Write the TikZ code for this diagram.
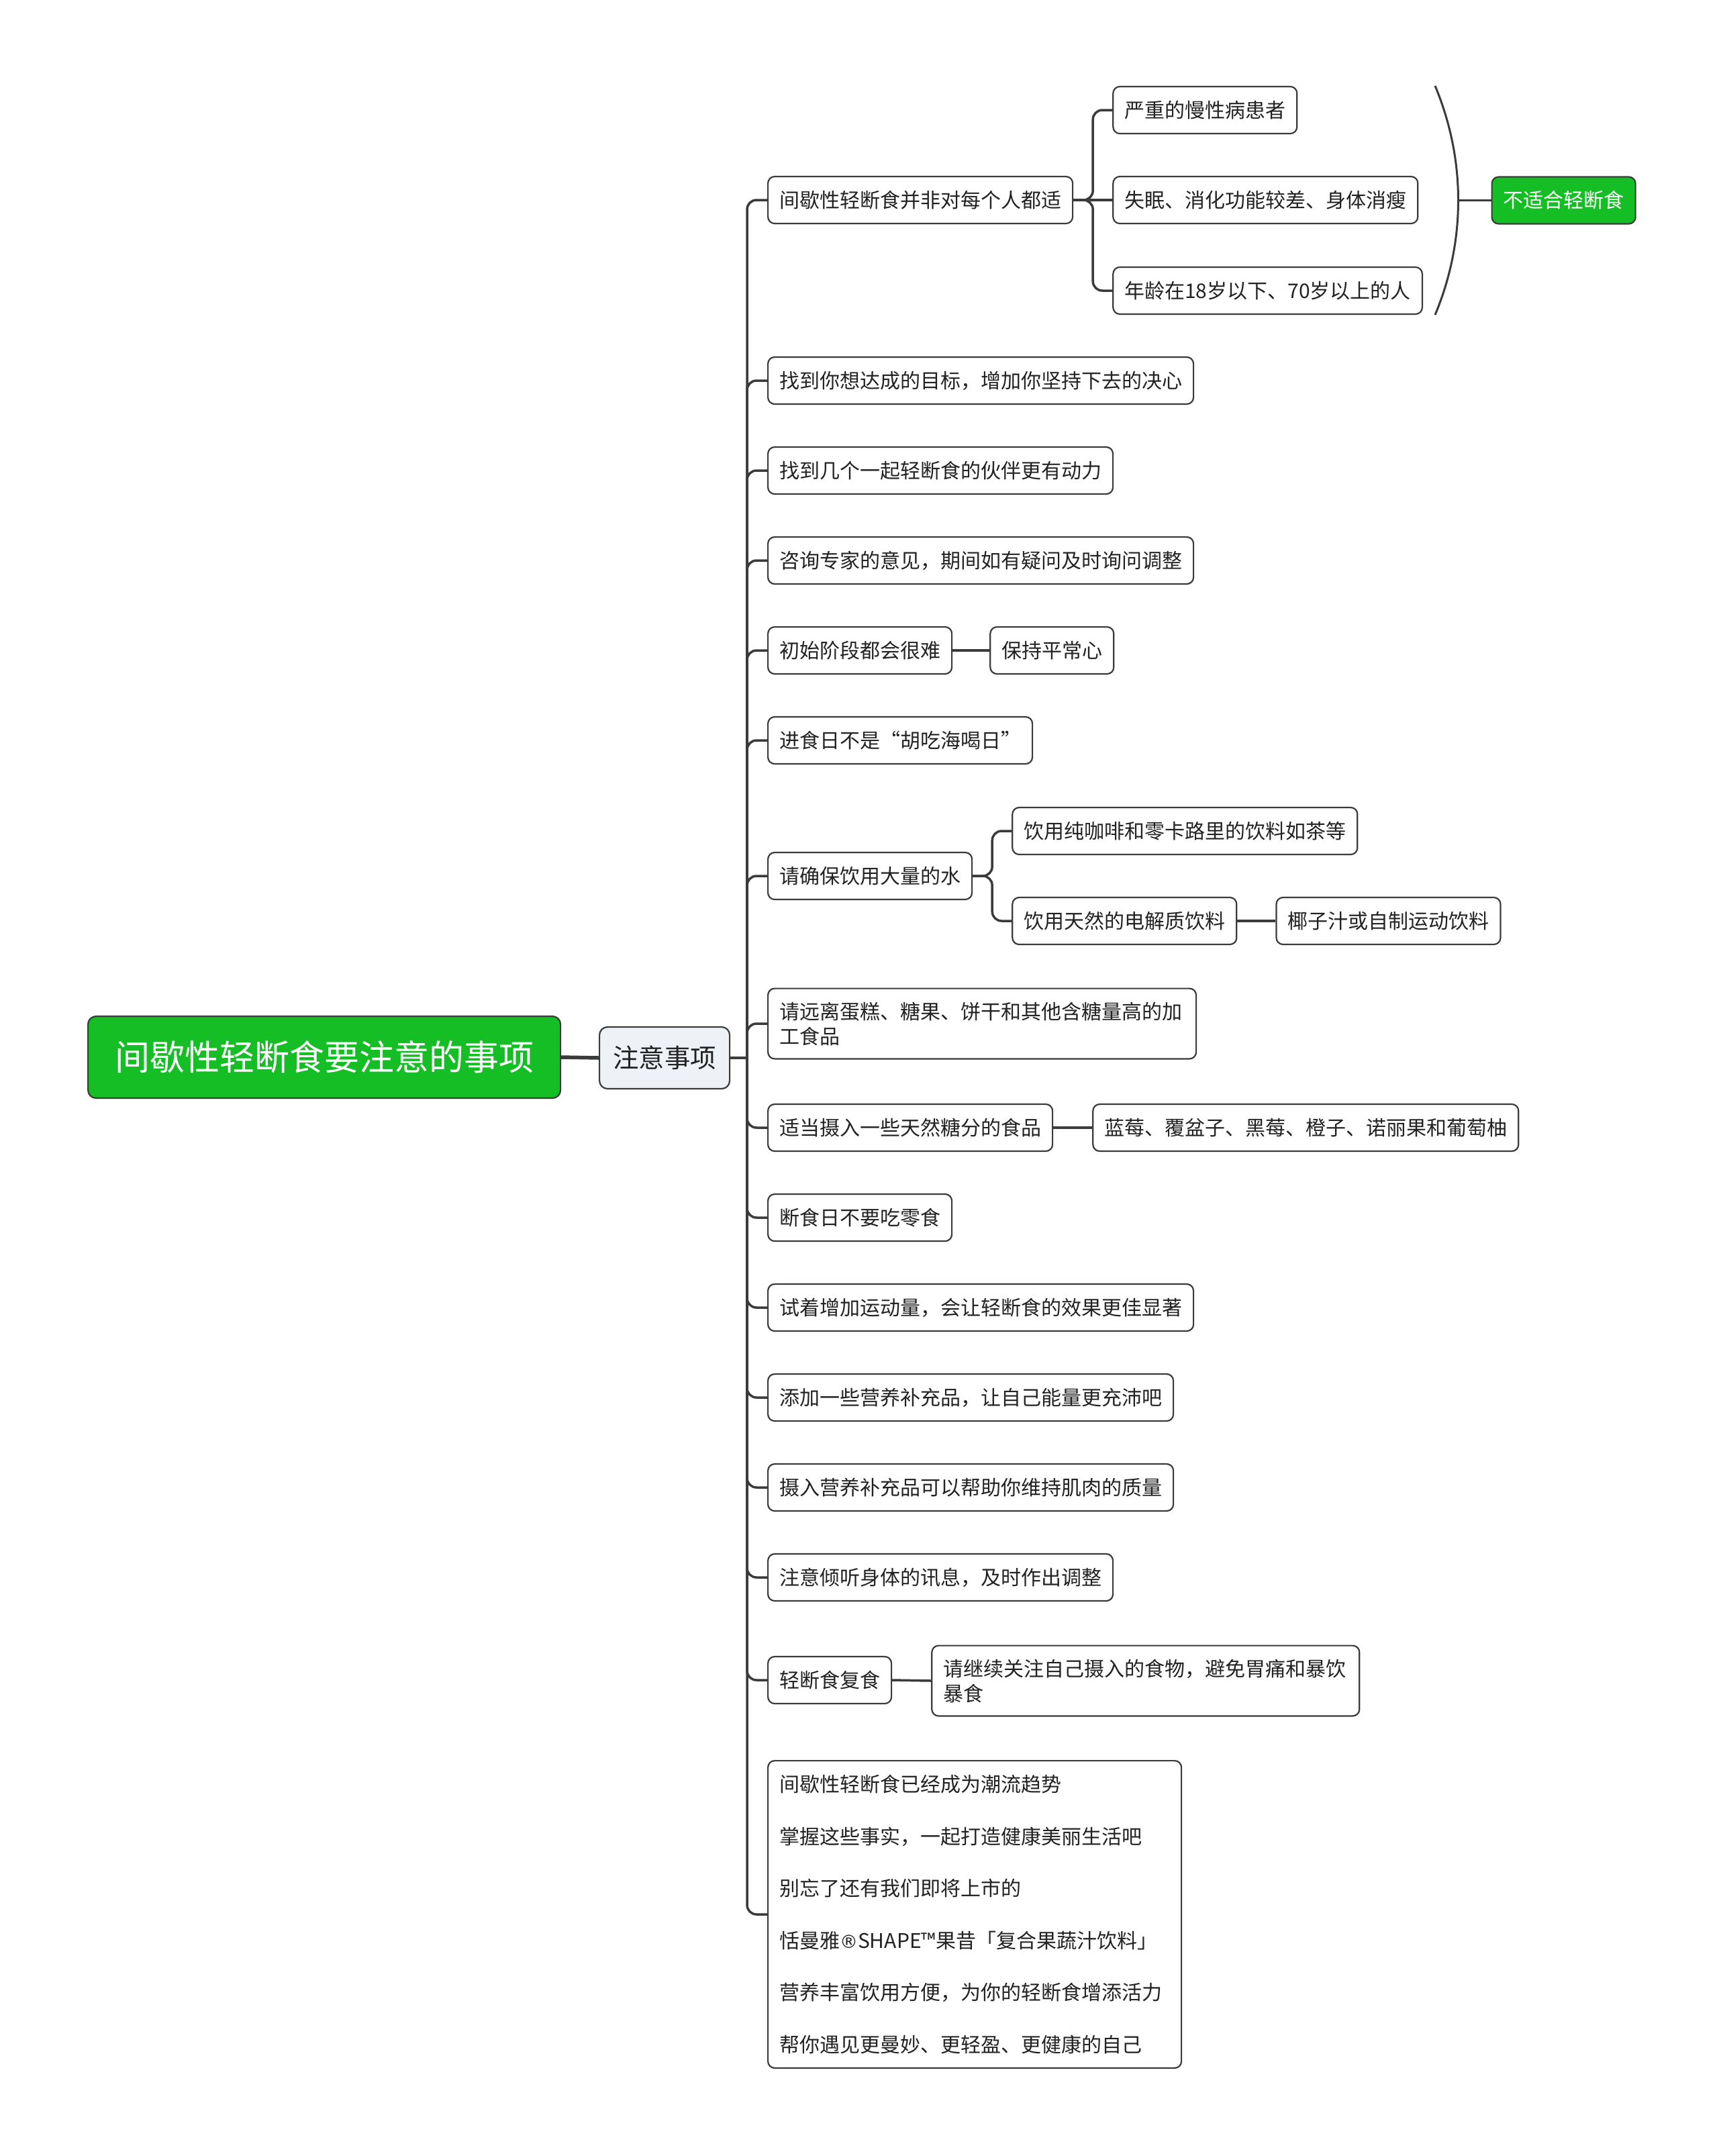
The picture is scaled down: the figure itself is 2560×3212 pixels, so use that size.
\documentclass[tikz,border=0pt]{standalone}
\usepackage{fontspec}
\setmainfont{Noto Sans CJK SC}
\newfontfamily\regfont{DejaVu Sans}
\usetikzlibrary{calc}
\definecolor{lineC}{HTML}{3A3C3A}
\definecolor{txtC}{HTML}{222222}
\definecolor{greenF}{HTML}{16BE26}
\definecolor{zsF}{HTML}{EEF1F5}
\begin{document}
\begin{tikzpicture}[x=1pt,y=-1pt,
  box/.style={draw=lineC, line width=2.2pt, rounded corners=10pt, fill=white,
    inner xsep=17pt, inner ysep=0pt, minimum height=70pt,
    font=\fontsize{30}{37}\selectfont, text=txtC, anchor=west},
  mbox/.style={box, inner ysep=20pt},
  greenbox/.style={box, fill=greenF, text=white},
  rootbox/.style={draw=lineC, line width=2.2pt, rounded corners=12pt, fill=greenF,
    text=white, inner xsep=40pt, inner ysep=0pt, minimum height=122pt,
    font=\fontsize{52}{60}\selectfont, anchor=west},
  zsbox/.style={draw=lineC, line width=2.2pt, rounded corners=12pt, fill=zsF,
    text=txtC, inner xsep=20pt, inner ysep=0pt, minimum height=92pt,
    font=\fontsize{38.5}{44}\selectfont, anchor=west},
  conn/.style={draw=lineC, line width=3.5pt, rounded corners=14pt},
  mainconn/.style={draw=lineC, line width=5.5pt},
  bracecurve/.style={draw=lineC, line width=3pt}
]
\useasboundingbox[fill=white] (0,0) rectangle (2560,3212);

% root and main topic
\node[rootbox] (root) at (130,1575) {间歇性轻断食要注意的事项};
\node[zsbox] (zs) at (892,1576) {注意事项};
\coordinate (sp) at (1113,1576);

% level-2 topics
\node[box] (a1) at (1143,298) {间歇性轻断食并非对每个人都适};
\node[box] (a2) at (1143,567) {找到你想达成的目标，增加你坚持下去的决心};
\node[box] (a3) at (1143,701) {找到几个一起轻断食的伙伴更有动力};
\node[box] (a4) at (1143,835) {咨询专家的意见，期间如有疑问及时询问调整};
\node[box] (a5) at (1143,969) {初始阶段都会很难};
\node[box] (a6) at (1143,1103) {进食日不是“胡吃海喝日”};
\node[box] (a7) at (1143,1305) {请确保饮用大量的水};
\node[mbox, text width=604pt, align=left] (a8) at (1143,1525) {请远离蛋糕、糖果、饼干和其他含糖量高的加\\工食品};
\node[box] (a9) at (1143,1680) {适当摄入一些天然糖分的食品};
\node[box] (a10) at (1143,1814) {断食日不要吃零食};
\node[box] (a11) at (1143,1948) {试着增加运动量，会让轻断食的效果更佳显著};
\node[box] (a12) at (1143,2082) {添加一些营养补充品，让自己能量更充沛吧};
\node[box] (a13) at (1143,2216) {摄入营养补充品可以帮助你维持肌肉的质量};
\node[box] (a14) at (1143,2350) {注意倾听身体的讯息，及时作出调整};
\node[box] (a15) at (1143,2503) {轻断食复食};
\node[mbox, inner ysep=21pt, text width=582pt, align=left,
  font=\fontsize{30}{77.6}\selectfont] (a16) at (1143,2852)
  {间歇性轻断食已经成为潮流趋势\\掌握这些事实，一起打造健康美丽生活吧\\别忘了还有我们即将上市的\\恬曼雅{\regfont\fontsize{27}{30}\selectfont ®}SHAPE™果昔「复合果蔬汁饮料」\\营养丰富饮用方便，为你的轻断食增添活力\\帮你遇见更曼妙、更轻盈、更健康的自己};

% level-3 topics
\node[box] (b2) at ($(a1.east)+(58,0)$) {失眠、消化功能较差、身体消瘦};
\node[box] (b1) at ($(a1.east)+(58,-134)$) {严重的慢性病患者};
\node[box] (b3) at ($(a1.east)+(58,135)$) {年龄在18岁以下、70岁以上的人};
\node[box] (c5) at ($(a5.east)+(55,0)$) {保持平常心};
\node[box] (c7a) at ($(a7.east)+(58,-67)$) {饮用纯咖啡和零卡路里的饮料如茶等};
\node[box] (c7b) at ($(a7.east)+(58,67)$) {饮用天然的电解质饮料};
\node[box] (c7c) at ($(c7b.east)+(57,0)$) {椰子汁或自制运动饮料};
\node[box] (c9) at ($(a9.east)+(58,0)$) {蓝莓、覆盆子、黑莓、橙子、诺丽果和葡萄柚};
\node[mbox, text width=603pt, align=left] (c15) at ($(a15.east)+(58,1)$) {请继续关注自己摄入的食物，避免胃痛和暴饮\\暴食};

% summary brace
\coordinate (brT) at ($(b3.east |- b1.north)+(18,0)$);
\coordinate (brB) at ($(b3.east |- b3.south)+(18,0)$);
\coordinate (brM) at ($(brT)!0.5!(brB)+(34.5,0)$);
\node[greenbox] (nf) at ($(brM)+(49,0)$) {不适合轻断食};

% connectors
\draw[mainconn] (root.east) -- (zs.west);
\draw[mainconn, line width=4pt] (zs.east) -- (sp);
\foreach \n in {a1,a2,a3,a4,a5,a6,a7,a8,a9,a10,a11,a12,a13,a14,a15,a16}
  \draw[conn] (sp) |- (\n.west);

\draw[conn] (a1.east) -- ++(29,0) |- (b1.west);
\draw[conn] (a1.east) -- ++(29,0) |- (b3.west);
\draw[conn] (a1.east) -- (b2.west);
\draw[conn] (a5.east) -- (c5.west);
\draw[conn] (a7.east) -- ++(29,0) |- (c7a.west);
\draw[conn] (a7.east) -- ++(29,0) |- (c7b.west);
\draw[conn] (c7b.east) -- (c7c.west);
\draw[conn] (a9.east) -- (c9.west);
\draw[conn] (a15.east) -- (c15.west);

\draw[bracecurve] (brT) .. controls ($(brT)+(46,110)$) and ($(brB)+(46,-110)$) .. (brB);
\draw[conn] (brM) -- (nf.west);
\end{tikzpicture}
\end{document}
